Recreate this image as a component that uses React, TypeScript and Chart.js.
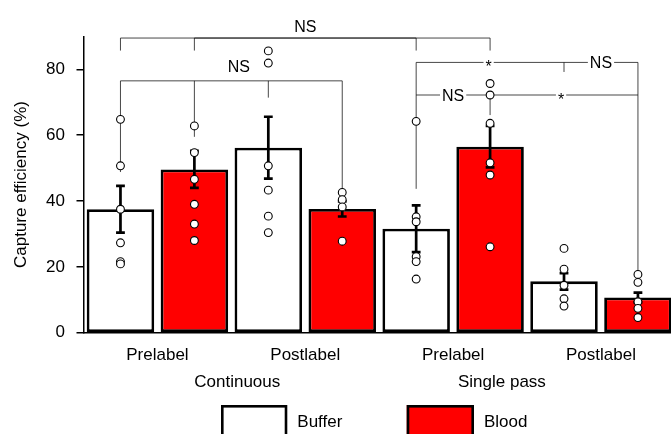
import React, { useEffect, useRef } from "react";
import { Chart, registerables } from "chart.js";

Chart.register(...registerables);

// ---------------- data ----------------
const categories = ["Prelabel", "Postlabel", "Prelabel", "Postlabel"];
const groupLabels = ["Continuous", "Single pass"];
const seriesNames = ["Buffer", "Blood"];
const seriesColors = ["#ffffff", "#ff0000"];

const bufferMeans = [37.5, 56.2, 31.6, 15.6];
const bloodMeans = [49.6, 37.6, 56.5, 10.7];
const bufferSem = [7.1, 9.4, 7.1, 2.5];
const bloodSem = [5.6, 2.3, 6.3, 1.5];

const bufferPoints = [
  [64.8, 50.7, 37.5, 27.3, 21.6, 20.9],
  [85.6, 81.9, 50.7, 43.3, 35.4, 30.4],
  [64.2, 35.2, 33.7, 23.1, 21.6, 16.3],
  [25.6, 19.3, 14.4, 10.3, 8.1],
];
const bloodPoints = [
  [62.8, 54.7, 46.6, 39.0, 33.0, 28.0],
  [42.6, 40.4, 38.2, 27.8],
  [75.7, 72.2, 63.6, 51.6, 47.9, 26.1],
  [17.7, 15.3, 9.4, 7.4, 4.6],
];

const yTicks = [0, 20, 40, 60, 80];
const yTitle = "Capture efficiency (%)";

// significance brackets; bars are numbered 0..7 from left to right
// horizontal lines: [fromBar, toBar, yValue]
const bracketLines = [
  [0, 4, 89.5],
  [1, 5, 89.5],
  [0, 3, 76.5],
  [4, 7, 82.1],
  [4, 7, 72.2],
];
// vertical drops: [bar, fromValue, toValue]
const bracketDrops = [
  [0, 89.5, 85.7],
  [1, 89.5, 85.7],
  [4, 89.5, 85.7],
  [5, 89.5, 85.7],
  [0, 76.5, 48.8],
  [1, 76.5, 59.5],
  [2, 76.5, 71.4],
  [3, 76.5, 43.4],
  [4, 82.1, 43.7],
  [6, 82.1, 79.2],
  [7, 82.1, 18.8],
  [5, 72.2, 66.1],
];
// labels: [text, x (bar units), yValue, inline on line?]
const bracketLabels: [string, number, number, boolean][] = [
  ["NS", 2.5, 91.4, false],
  ["NS", 1.6, 79.3, false],
  ["*", 4.98, 82.1, true],
  ["NS", 6.5, 82.1, true],
  ["NS", 4.5, 72.2, true],
  ["*", 5.96, 72.2, true],
];
const groupLabelX = [1.58, 5.16];

const FONT = "'Liberation Sans', Arial, Helvetica, sans-serif";

// one slot per bar on the x axis: category i, series s -> 2*i + s
const barKeys = categories.flatMap((c, i) => seriesNames.map((s) => `${s} ${c} ${i}`));
const barValues = bufferMeans.flatMap((m, i) => [m, bloodMeans[i]]);
const barSems = bufferSem.flatMap((e, i) => [e, bloodSem[i]]);
const barColors = bufferMeans.flatMap(() => seriesColors);

const annotationPlugin = {
  id: "annotations",
  beforeDatasetDraw(chart: any, args: any) {
    if (args.index !== 1) return;
    const ctx = chart.ctx;
    const x = chart.scales.x;
    const y = chart.scales.y;
    ctx.save();
    // bracket lines
    ctx.strokeStyle = "rgba(0,0,0,0.72)";
    ctx.lineWidth = 1;
    bracketLines.forEach(([a, b, v]) => {
      const py = y.getPixelForValue(v);
      ctx.beginPath();
      ctx.moveTo(x.getPixelForValue(a), py);
      ctx.lineTo(x.getPixelForValue(b), py);
      ctx.stroke();
    });
    bracketDrops.forEach(([b, v1, v2]) => {
      const px = x.getPixelForValue(b);
      ctx.beginPath();
      ctx.moveTo(px, y.getPixelForValue(v1));
      ctx.lineTo(px, y.getPixelForValue(v2));
      ctx.stroke();
    });
    // labels
    ctx.font = `16px ${FONT}`;
    ctx.textAlign = "center";
    ctx.textBaseline = "alphabetic";
    bracketLabels.forEach(([t, xv, v, inline]) => {
      const px = x.getPixelForValue(xv);
      const py = y.getPixelForValue(v);
      if (inline) {
        const w = ctx.measureText(t).width;
        ctx.fillStyle = "#ffffff";
        ctx.fillRect(px - w / 2 - 2, py - 3, w + 4, 6);
        ctx.fillStyle = "#000";
        const off = t === "*" ? 0.6 * 16 : 0.358 * 16;
        ctx.fillText(t, px, py + off);
      } else {
        ctx.fillStyle = "#000";
        ctx.fillText(t, px, py);
      }
    });
    // error bars
    ctx.strokeStyle = "#000";
    ctx.lineWidth = 2.7;
    barValues.forEach((m, b) => {
      const px = x.getPixelForValue(b);
      const top = y.getPixelForValue(m + barSems[b]);
      const bot = y.getPixelForValue(m - barSems[b]);
      ctx.beginPath();
      ctx.moveTo(px, top);
      ctx.lineTo(px, bot);
      ctx.moveTo(px - 4.4, top);
      ctx.lineTo(px + 4.4, top);
      ctx.moveTo(px - 4.4, bot);
      ctx.lineTo(px + 4.4, bot);
      ctx.stroke();
    });
    ctx.restore();
  },
  afterDraw(chart: any) {
    const ctx = chart.ctx;
    const x = chart.scales.x;
    ctx.save();
    ctx.fillStyle = "#000";
    ctx.font = `17px ${FONT}`;
    ctx.textAlign = "center";
    ctx.textBaseline = "alphabetic";
    groupLabels.forEach((g, i) => {
      ctx.fillText(g, x.getPixelForValue(groupLabelX[i]), 386.5);
    });
    // legend
    const boxes = [
      { x: 221, w: 66.3 },
      { x: 406.7, w: 67.3 },
    ];
    ctx.textAlign = "left";
    seriesNames.forEach((name, i) => {
      const b = boxes[i];
      ctx.fillStyle = seriesColors[i];
      ctx.fillRect(b.x, 405, b.w, 40);
      ctx.strokeStyle = "#000";
      ctx.lineWidth = 2.6;
      ctx.strokeRect(b.x + 1.3, 406.3, b.w - 2.6, 40);
      ctx.fillStyle = "#000";
      ctx.fillText(name, b.x + b.w + 10, 427.3);
    });
    ctx.restore();
  },
};

export default function App() {
  const ref = useRef<HTMLCanvasElement | null>(null);
  useEffect(() => {
    if (!ref.current) return;
    Chart.defaults.font.family = FONT;
    Chart.defaults.color = "#000";
    const scatterData: { x: string; y: number }[] = [];
    bufferPoints.forEach((pts, i) => pts.forEach((v) => scatterData.push({ x: barKeys[2 * i], y: v })));
    bloodPoints.forEach((pts, i) => pts.forEach((v) => scatterData.push({ x: barKeys[2 * i + 1], y: v })));
    const chart = new Chart(ref.current, {
      type: "bar",
      data: {
        labels: barKeys,
        datasets: [
          {
            type: "bar",
            label: "means",
            data: barValues,
            backgroundColor: barColors,
            borderColor: "#000",
            borderWidth: 2.8,
            borderSkipped: false,
            barPercentage: 0.913,
            categoryPercentage: 1,
            grouped: false,
            order: 2,
            xAxisID: "x",
            yAxisID: "y",
          },
          {
            type: "scatter",
            label: "points",
            data: scatterData,
            xAxisID: "x",
            yAxisID: "y",
            pointRadius: 3.9,
            pointBackgroundColor: "#ffffff",
            pointBorderColor: "#000",
            pointBorderWidth: 1.1,
            showLine: false,
            order: 0,
            clip: false,
          } as any,
        ],
      },
      options: {
        responsive: false,
        animation: false,
        layout: { padding: { top: 36.4, right: 4.5, left: 0, bottom: 0 } },
        plugins: { legend: { display: false }, tooltip: { enabled: false } },
        scales: {
          x: {
            type: "category",
            labels: barKeys,
            offset: true,
            display: false,
          },
          xl: {
            type: "category",
            labels: categories,
            position: "bottom",
            offset: true,
            grid: { display: false },
            border: { display: true, color: "#000", width: 1.5 },
            ticks: { font: { size: 17 }, color: "#000", padding: 4 },
            afterFit: (s: any) => {
              s.height = 101.3;
            },
          },
          y: {
            type: "linear",
            min: 0,
            max: 90,
            afterBuildTicks: (s: any) => {
              s.ticks = yTicks.map((v) => ({ value: v }));
            },
            ticks: { font: { size: 17 }, color: "#000", padding: 11.5 },
            grid: { drawOnChartArea: false, drawTicks: true, tickLength: 7, color: "#000", lineWidth: 1.5 },
            border: { display: true, color: "#000", width: 1.5 },
            title: { display: true, text: yTitle, font: { size: 17 }, color: "#000", padding: { top: 11.5, bottom: 0 } },
            afterFit: (s: any) => {
              s.width = 83.5;
            },
          },
        } as any,
      },
      plugins: [annotationPlugin],
    });
    return () => chart.destroy();
  }, []);
  return (
    <div style={{ position: "fixed", left: 0, top: 0, width: 671, height: 434, overflow: "hidden", background: "#fff" }}>
      <canvas ref={ref} width={680} height={434} style={{ display: "block" }} />
    </div>
  );
}
